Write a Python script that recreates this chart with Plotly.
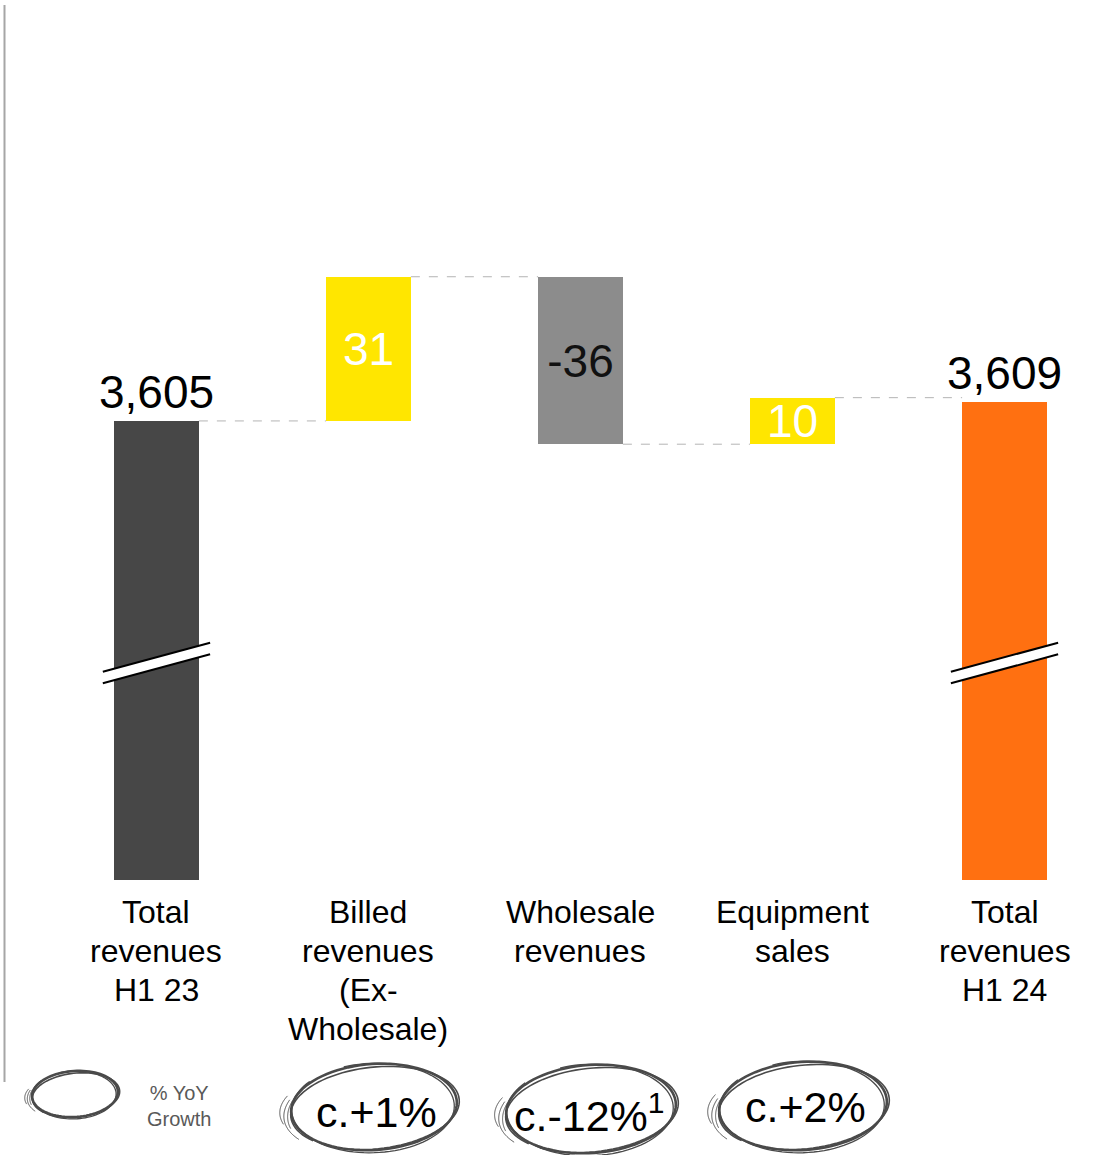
import numpy as np
import plotly.graph_objects as go

# ---- data -------------------------------------------------------------
categories = [
    "Total<br>revenues<br>H1 23",
    "Billed<br>revenues<br>(Ex-<br>Wholesale)",
    "Wholesale<br>revenues",
    "Equipment<br>sales",
    "Total<br>revenues<br>H1 24",
]
start_total = 3605
changes = [31, -36, 10]
end_total = 3609
value_labels = ["3,605", "31", "-36", "10", "3,609"]
growth_labels = ["c.+1%", "c.-12%<sup>1</sup>", "c.+2%"]
legend_label = "% YoY<br>Growth"

# ---- page geometry ----------------------------------------------------
W, H = 1096, 1155
PLOT_H = 880                     # plot area height (top margin 0)
Y_MIN, Y_MAX = 3506.3, 3695.5    # truncated value axis (broken bars)
X_MIN, X_MAX = -0.738, 4.4316
BAR_W = 0.40
FONT = "Liberation Sans, Arial, sans-serif"
LABEL_SIZE = 32
LABEL_LINE = 39                  # px between label lines
LABEL_FIRST = 912                # px centre of the first label line

bar_colors = ["#474747", "#FFE600", "#8C8C8C", "#FFE600", "#FF7011"]
text_colors = ["#000000", "#FFFFFF", "#111111", "#FFFFFF", "#000000"]
text_pos = ["outside", "inside", "inside", "inside", "outside"]


def px_x(px):
    return px / W


def px_y(py):
    return (PLOT_H - py) / PLOT_H


# ---- waterfall bases --------------------------------------------------
x_idx = list(range(len(categories)))
bases = [0]
heights = [start_total]
levels = [start_total]
running = start_total
for c in changes:
    bases.append(running)
    heights.append(c)
    running += c
    levels.append(running)
bases.append(0)
heights.append(end_total)

fig = go.Figure()
fig.add_trace(go.Bar(
    x=x_idx,
    y=heights,
    base=bases,
    width=BAR_W,
    marker=dict(color=bar_colors, line=dict(width=0)),
    text=value_labels,
    textposition=text_pos,
    textangle=0,
    insidetextanchor="middle",
    constraintext="none",
    textfont=dict(family=FONT, size=46, color=text_colors),
    cliponaxis=False,
    hoverinfo="skip",
))

shapes = []

# dashed connectors between consecutive bars
for i, lvl in enumerate(levels):
    shapes.append(dict(
        type="line", xref="x", yref="y",
        x0=i + BAR_W / 2, x1=i + 1 - BAR_W / 2, y0=lvl, y1=lvl,
        line=dict(color="#B4B4B4", width=1, dash="dash"),
        layer="below",
    ))

# axis-break marks on the two total bars
for i in (0, len(categories) - 1):
    xl, xr = i - 0.253, i + 0.253
    top_l, top_r = px_y(671.7), px_y(642.7)
    bot_l, bot_r = px_y(683.3), px_y(654.3)
    shapes.append(dict(
        type="path", xref="x", yref="paper",
        path=f"M {xl},{top_l} L {xr},{top_r} L {xr},{bot_r} L {xl},{bot_l} Z",
        fillcolor="white", line=dict(width=0), layer="above",
    ))
    for yl, yr in ((top_l, top_r), (bot_l, bot_r)):
        shapes.append(dict(
            type="line", xref="x", yref="paper",
            x0=xl, x1=xr, y0=yl, y1=yr,
            line=dict(color="black", width=2), layer="above",
        ))

# left rule
shapes.append(dict(
    type="line", xref="paper", yref="paper",
    x0=px_x(4.5), x1=px_x(4.5), y0=px_y(5), y1=px_y(1082),
    line=dict(color="#A6A6A6", width=2),
))


# hand-drawn style ellipses
def sketch_path(cx, cy, rx, ry, rot_deg, a0_deg, sweep_deg, dx=0.0, dy=0.0, n=90):
    t = np.radians(np.linspace(a0_deg, a0_deg + sweep_deg, n))
    r = np.radians(rot_deg)
    ex = rx * np.cos(t)
    ey = ry * np.sin(t)
    xs = cx + dx + ex * np.cos(r) - ey * np.sin(r)
    ys = cy + dy + ex * np.sin(r) + ey * np.cos(r)
    pts = [f"{px_x(a):.5f},{px_y(b):.5f}" for a, b in zip(xs, ys)]
    return "M " + " L ".join(pts)


STROKES = [
    # (rx scale, ry scale, rotation, start, sweep, dx, dy, width)
    (1.00, 1.00, -4, 200, 370, 0, 0, 2.6),
    (1.02, 0.95, -6, 140, 350, 1, 1, 1.6),
    (0.98, 1.04, -2, 250, 330, -1, 1, 1.3),
    (1.07, 1.02, -8, 150, 55, -2, 0, 1.0),
    (1.10, 0.96, -3, 165, 40, -3, 2, 1.0),
    (1.04, 1.06, -10, 170, 35, -1, -1, 1.0),
]


def add_sketch_ellipse(cx, cy, rx, ry):
    for sx, sy, rot, a0, sw, dx, dy, lw in STROKES:
        shapes.append(dict(
            type="path", xref="paper", yref="paper",
            path=sketch_path(cx, cy, rx * sx, ry * sy, rot, a0, sw, dx, dy),
            line=dict(color="#4A4A4A", width=lw),
        ))


add_sketch_ellipse(75, 1094, 43, 23)
growth_geom = [(374, 1107, 83, 43), (591, 1109, 85, 44), (803, 1106, 84, 44)]
for cx, cy, rx, ry in growth_geom:
    add_sketch_ellipse(cx, cy, rx, ry)

annotations = []
# category labels under the bars, one annotation per line
for i, lab in enumerate(categories):
    for k, line in enumerate(lab.split("<br>")):
        annotations.append(dict(
            x=i, xref="x", y=px_y(LABEL_FIRST + k * LABEL_LINE), yref="paper",
            text=line, showarrow=False, xanchor="center", yanchor="middle",
            font=dict(family=FONT, size=LABEL_SIZE, color="#000000"),
        ))

# growth call-outs
growth_text_pos = [(376, 1112), (589, 1113), (805, 1107)]
for (tx, ty), lab in zip(growth_text_pos, growth_labels):
    annotations.append(dict(
        x=px_x(tx), xref="paper", y=px_y(ty), yref="paper",
        text=lab, showarrow=False, xanchor="center", yanchor="middle",
        font=dict(family=FONT, size=43, color="#000000"),
    ))

# legend key text
annotations.append(dict(
    x=px_x(179), xref="paper", y=px_y(1106), yref="paper",
    text=legend_label, showarrow=False, xanchor="center", yanchor="middle",
    align="center", font=dict(family=FONT, size=20, color="#595959"),
))

fig.update_layout(
    width=W, height=H,
    margin=dict(l=0, r=0, t=0, b=H - PLOT_H, pad=0),
    paper_bgcolor="white", plot_bgcolor="white",
    showlegend=False,
    bargap=0,
    xaxis=dict(range=[X_MIN, X_MAX], visible=False, fixedrange=True),
    yaxis=dict(range=[Y_MIN, Y_MAX], visible=False, fixedrange=True),
    shapes=shapes,
    annotations=annotations,
)

fig.write_html("out.html", config={"displayModeBar": False})
